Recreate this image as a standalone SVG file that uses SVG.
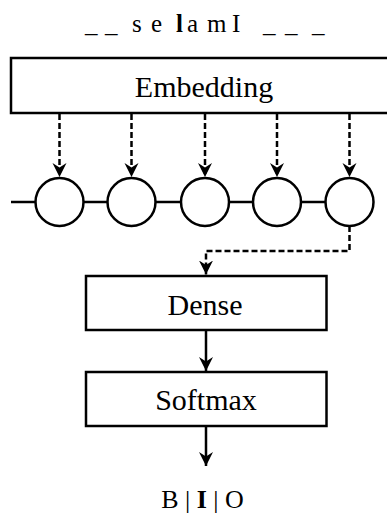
<svg xmlns="http://www.w3.org/2000/svg" width="387" height="518" viewBox="0 0 387 518">
<style>
.box{fill:#fff;stroke:#000;stroke-width:2.5}
.cell{fill:#fff;stroke:#000;stroke-width:2.5}
.ln{fill:none;stroke:#000;stroke-width:2.5}
.dash{fill:none;stroke:#000;stroke-width:2.5;stroke-dasharray:6,3}
.lbl{font-family:"Liberation Serif","Times New Roman",serif;font-size:30px;fill:#000;text-anchor:middle}
.seq{font-family:"Liberation Serif","Times New Roman",serif;font-size:25px;fill:#000}
.out{font-family:"Liberation Serif","Times New Roman",serif;font-size:26px;fill:#000;text-anchor:middle}
</style>
<defs>
<marker id="arr" markerUnits="userSpaceOnUse" markerWidth="16" markerHeight="16" refX="14" refY="8" orient="auto">
<path d="M0,1 L14,8 L0,15 L4.5,8 Z" fill="#000"/>
</marker>
</defs>
<g id="input-seq">
<text class="seq" y="32"><tspan x="85">_</tspan><tspan x="105">_</tspan><tspan x="132">s</tspan><tspan x="151">e</tspan><tspan x="176" font-weight="bold">l</tspan><tspan x="187">a</tspan><tspan x="207">m</tspan><tspan x="232">I</tspan><tspan x="263">_</tspan><tspan x="285">_</tspan><tspan x="312">_</tspan></text>
</g>
<g id="embedding">
<rect class="box" x="11" y="58" width="385" height="55"/>
<text class="lbl" x="204" y="97">Embedding</text>
</g>
<g id="connectors">
<line class="ln" x1="11" y1="202" x2="35.5" y2="202"/>
<line class="ln" x1="83.5" y1="202" x2="107.5" y2="202"/>
<line class="ln" x1="155.5" y1="202" x2="181" y2="202"/>
<line class="ln" x1="229" y1="202" x2="253" y2="202"/>
<line class="ln" x1="301" y1="202" x2="325.5" y2="202"/>
<line class="dash" x1="59.5" y1="114" x2="59.5" y2="177" marker-end="url(#arr)"/>
<line class="dash" x1="131.5" y1="114" x2="131.5" y2="177" marker-end="url(#arr)"/>
<line class="dash" x1="205" y1="114" x2="205" y2="177" marker-end="url(#arr)"/>
<line class="dash" x1="277" y1="114" x2="277" y2="177" marker-end="url(#arr)"/>
<line class="dash" x1="349.5" y1="114" x2="349.5" y2="177" marker-end="url(#arr)"/>
<path class="dash" d="M349.5,226 V251 H206 V274.5" marker-end="url(#arr)"/>
<line class="ln" x1="206" y1="330" x2="206" y2="371" marker-end="url(#arr)"/>
<line class="ln" x1="206" y1="426" x2="206" y2="466" marker-end="url(#arr)"/>
</g>
<g id="cell1"><circle class="cell" cx="59.5" cy="202" r="24"/></g>
<g id="cell2"><circle class="cell" cx="131.5" cy="202" r="24"/></g>
<g id="cell3"><circle class="cell" cx="205" cy="202" r="24"/></g>
<g id="cell4"><circle class="cell" cx="277" cy="202" r="24"/></g>
<g id="cell5"><circle class="cell" cx="349.5" cy="202" r="24"/></g>
<g id="dense">
<rect class="box" x="86" y="276" width="240.5" height="54"/>
<text class="lbl" x="205" y="315">Dense</text>
</g>
<g id="softmax">
<rect class="box" x="86" y="372" width="240.5" height="54"/>
<text class="lbl" x="206" y="410">Softmax</text>
</g>
<g id="output">
<text class="out" x="202.5" y="508">B | <tspan font-weight="bold">I</tspan> | O</text>
</g>
</svg>
